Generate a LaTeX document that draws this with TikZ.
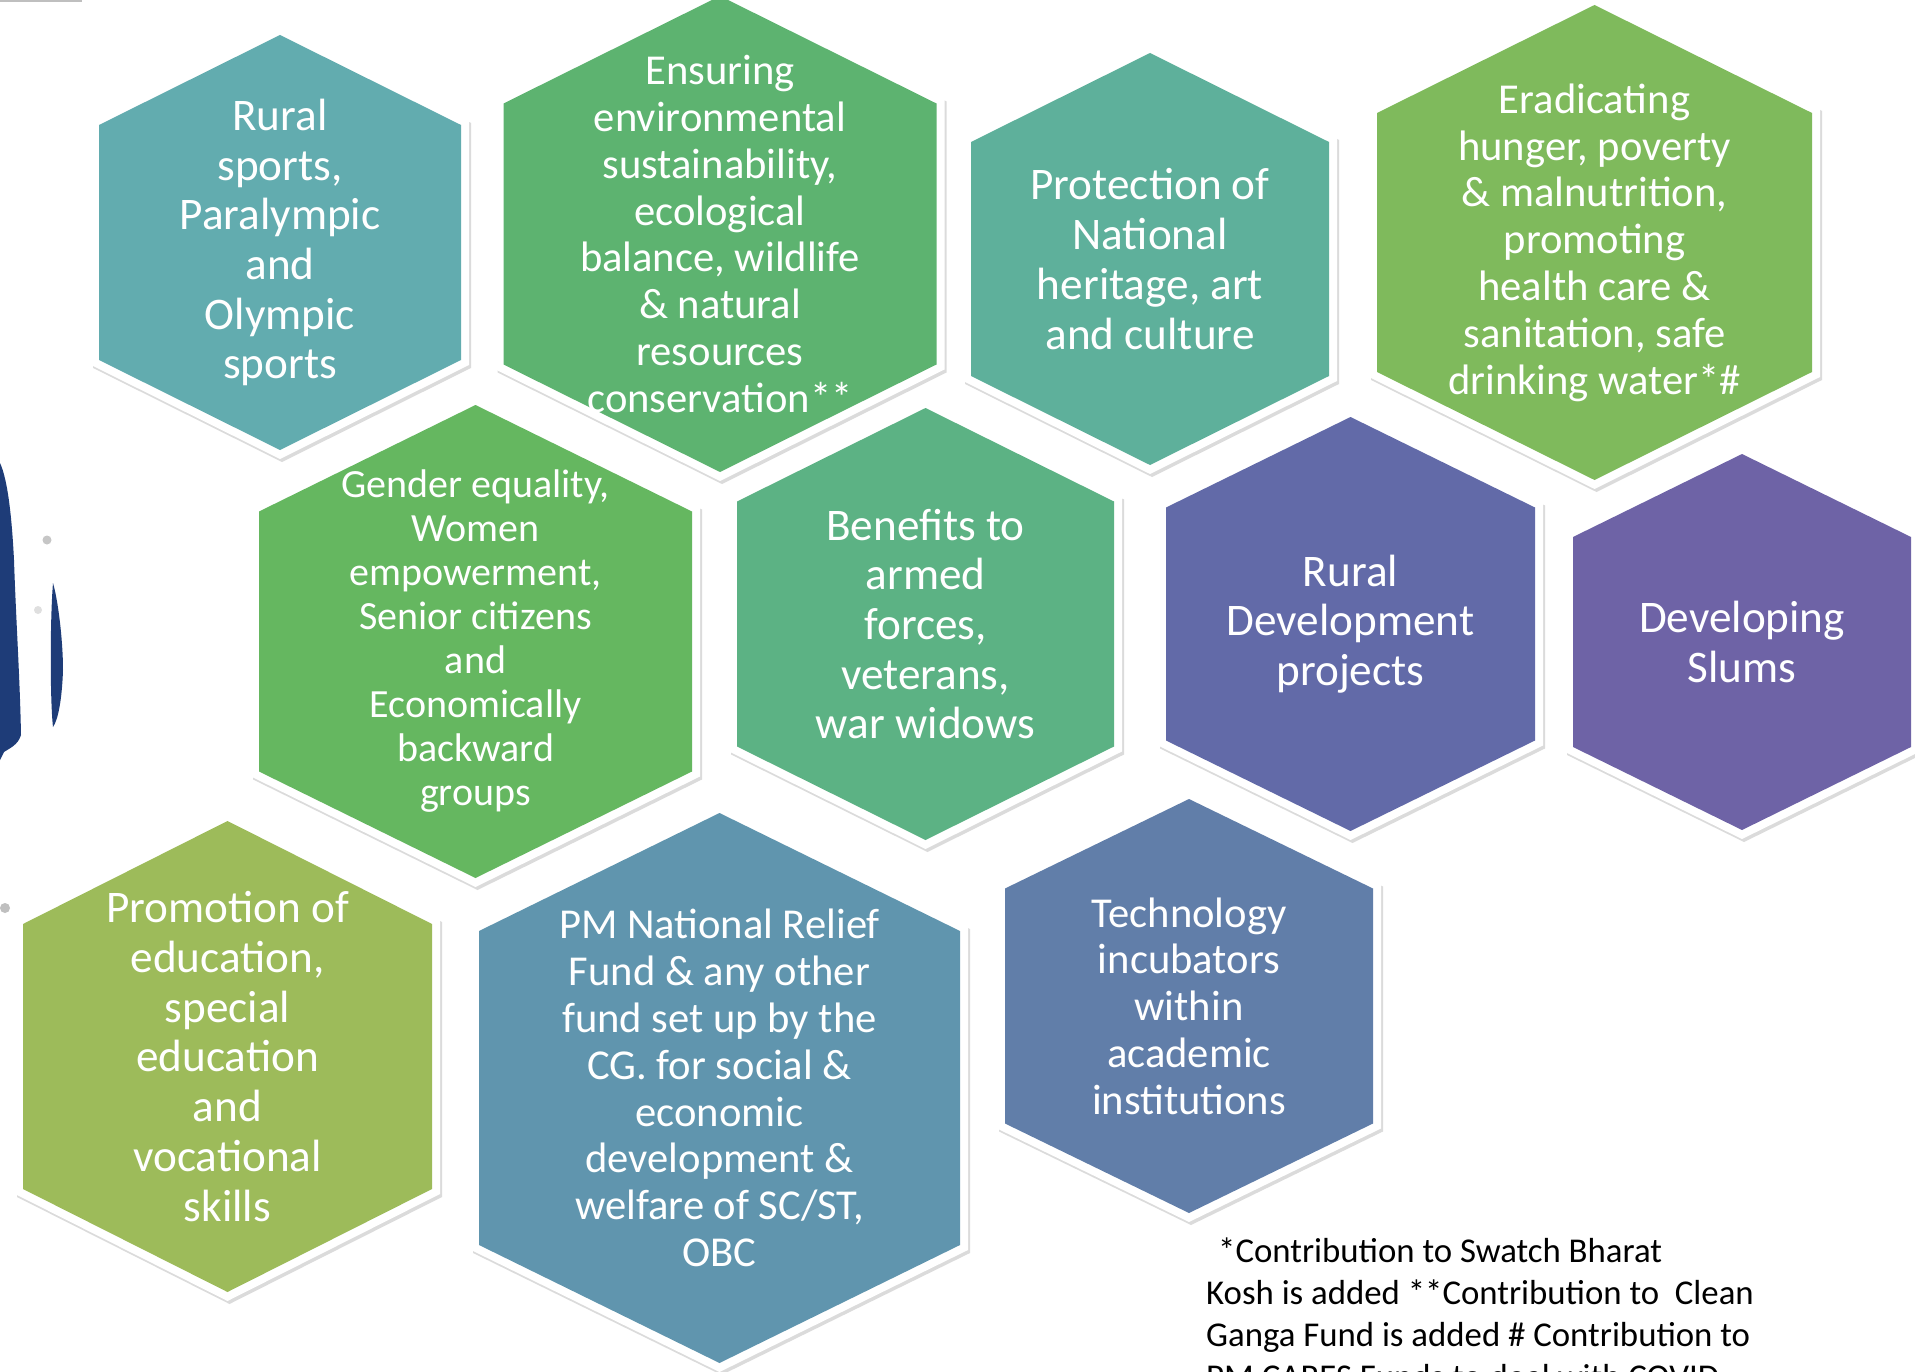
\documentclass[tikz,border=0pt]{standalone}
\usepackage{fontspec}
\setmainfont{Carlito}
\usetikzlibrary{shadows}
\definecolor{cA}{HTML}{62ACAF}
\definecolor{cB}{HTML}{5DB370}
\definecolor{cC}{HTML}{5EB09B}
\definecolor{cD}{HTML}{7FBA5C}
\definecolor{cE}{HTML}{65B760}
\definecolor{cF}{HTML}{5CB284}
\definecolor{cG}{HTML}{626AA8}
\definecolor{cH}{HTML}{6E63A6}
\definecolor{cI}{HTML}{9DBB5A}
\definecolor{cJ}{HTML}{6095AE}
\definecolor{cK}{HTML}{617EA9}
\definecolor{navy}{HTML}{1E3C78}
\newcommand\hxL{\fontsize{45.2pt}{49.7pt}\selectfont}
\newcommand\hxM{\fontsize{42.6pt}{46.8pt}\selectfont}
\newcommand\hxS{\fontsize{40pt}{44pt}\selectfont}
\newcommand\hxN{\fontsize{34.8pt}{42pt}\selectfont}
\tikzset{
  hexshadow/.style={drop shadow={shadow xshift=2pt, shadow yshift=-3pt, opacity=0.14, fill=black}},
  hextext/.style={text=white, align=center, inner sep=0pt},
  notetext/.style={text=black, align=left, inner sep=0pt, font=\hxN},
}
\newcommand\hxcell[9]{%
  \fill[white, hexshadow] ({#2-#4-8},{#3-#6-5}) -- (#2,{#3-#5-9}) -- ({#2+#4+8},{#3-#6-5}) -- ({#2+#4+8},{#3+#6+5}) -- (#2,{#3+#5+9}) -- ({#2-#4-8},{#3+#6+5}) -- cycle;
  \fill[#7] ({#2-#4},{#3-#6}) -- (#2,{#3-#5}) -- ({#2+#4},{#3-#6}) -- ({#2+#4},{#3+#6}) -- (#2,{#3+#5}) -- ({#2-#4},{#3+#6}) -- cycle;
  \node[hextext, font=#8] (#1) at (#2,#3) {#9};
}
\begin{document}
\begin{tikzpicture}[x=1pt, y=-1pt]
\useasboundingbox (0,0) rectangle (1915,1372);
\clip (0,0) rectangle (1915,1372);
\fill[white] (0,0) rectangle (1915,1372);
% stray marks at the left edge
\fill[gray!50] (0,0) rectangle (82,2);
\fill[navy] (0,463) .. controls (8,480) and (12,520) .. (14,560) .. controls (16,620) and (20,680) .. (21,735) .. controls (18,745) and (10,748) .. (4,752) -- (0,760) -- cycle;
\fill[navy] (53,583) .. controls (58,600) and (63,640) .. (63,670) .. controls (62,700) and (58,720) .. (53,727) .. controls (50,700) and (50,620) .. (53,583) -- cycle;
\fill[gray!45] (47,540) circle (4.5);
\fill[gray!25] (38,610) circle (4);
\fill[gray!50] (5,908) circle (5);
% hexagons
\hxcell{rs}{280}{242.5}{181}{207.5}{117.5}{cA}{\hxL}{Rural\\sports,\\Paralympic\\and\\Olympic\\sports}
\hxcell{en}{720}{234}{216.5}{238}{130.5}{cB}{\hxM}{Ensuring\\environmental\\sustainability,\\ecological\\balance, wildlife\\\& natural\\resources\\conservation**}
\hxcell{pr}{1150}{259}{179}{206}{117}{cC}{\hxL}{Protection of\\National\\heritage, art\\and culture}
\hxcell{er}{1594.5}{242.5}{217.5}{237.5}{129.5}{cD}{\hxM}{Eradicating\\hunger, poverty\\\& malnutrition,\\promoting\\health care \&\\sanitation, safe\\drinking water*\#}
\hxcell{ge}{475.5}{641.5}{216.5}{236.5}{130}{cE}{\hxS}{Gender equality,\\Women\\empowerment,\\Senior citizens\\and\\Economically\\backward\\groups}
\hxcell{be}{925.5}{624}{188.5}{216}{122.5}{cF}{\hxL}{Benefits to\\armed\\forces,\\veterans,\\war widows}
\hxcell{rd}{1350.5}{624}{184.5}{207}{116.5}{cG}{\hxL}{Rural\\Development\\projects}
\hxcell{sl}{1742}{642}{169}{188}{105}{cH}{\hxL}{Developing\\Slums}
\hxcell{po}{227.5}{1056.5}{204.5}{235.5}{132.5}{cI}{\hxL}{Promotion of\\education,\\special\\education\\and\\vocational\\skills}
\hxcell{pm}{719.5}{1088}{240.5}{275}{157}{cJ}{\hxM}{PM National Relief\\Fund \& any other\\fund set up by the\\CG. for social \&\\economic\\development \&\\welfare of SC/ST,\\OBC}
\hxcell{te}{1189}{1006}{184}{207}{117.5}{cK}{\hxM}{Technology\\incubators\\within\\academic\\institutions}
% footnote (base anchor = baseline of the last line)
\node[notetext, anchor=base west] (note) at (1206,1388) {\hspace*{12pt}*Contribution to Swatch Bharat\\Kosh is added **Contribution to\ \ Clean\\Ganga Fund is added \# Contribution to\\PM CARES Funds to deal with COVID};
\end{tikzpicture}
\end{document}
